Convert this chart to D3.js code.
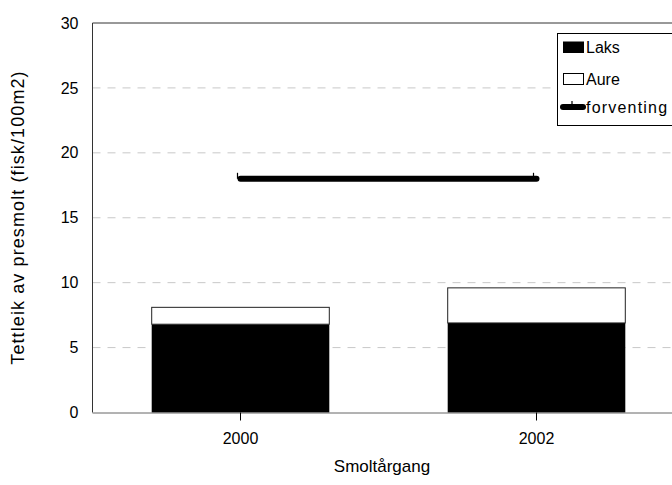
<!DOCTYPE html>
<html>
<head>
<meta charset="utf-8">
<script src="https://cdn.jsdelivr.net/npm/d3@7"></script>
<style>
  html, body { margin: 0; padding: 0; background: #fff; }
  svg { display: block; font-family: "Liberation Sans", Arial, sans-serif; }
</style>
</head>
<body>
<svg id="chart" width="672" height="485"></svg>
<script>
// Presmolt density per smolt year class
const years = ["2000", "2002"];
const laks = [6.8, 6.9];
const aure = [1.3, 2.7];          // stacked on top of laks
const forventing = [18, 18];      // expected density
const yTicks = [0, 5, 10, 15, 20, 25, 30];
const legendLabels = ["Laks", "Aure", "forventing"];

const svg = d3.select("#chart");
const plotLeft = 92.5, plotRight = 684.5, plotTop = 23, plotBottom = 412.5;

const x = d3.scaleBand().domain(years).range([plotLeft, plotRight]).padding(0);
const y = d3.scaleLinear().domain([0, 30]).range([plotBottom, plotTop]);
const barW = x.bandwidth() * 0.6;
const cx = d => x(d) + x.bandwidth() / 2;

// dashed gridlines
svg.append("g").selectAll("line")
  .data(yTicks.filter(t => t > 0 && t < 30))
  .join("line")
  .attr("x1", plotLeft).attr("x2", plotRight)
  .attr("y1", d => y(d)).attr("y2", d => y(d))
  .attr("stroke", "#c8c8c8").attr("stroke-width", 1)
  .attr("stroke-dasharray", "8,7");

// stacked bars
const stacked = years.map((yr, i) => ({ yr, laks: laks[i], aure: aure[i] }));
const series = d3.stack().keys(["laks", "aure"])(stacked);
const fills = { laks: "#000", aure: "#fff" };

svg.append("g").selectAll("g")
  .data(series)
  .join("g")
  .attr("fill", d => fills[d.key])
  .attr("stroke", d => d.key === "aure" ? "#222" : "none")
  .selectAll("rect")
  .data(d => d)
  .join("rect")
  .attr("x", d => cx(d.data.yr) - barW / 2)
  .attr("width", barW)
  .attr("y", d => y(d[1]))
  .attr("height", d => y(d[0]) - y(d[1]));

// expected density line with small point markers
const line = d3.line().x((d, i) => cx(years[i])).y(d => y(d));
svg.append("path")
  .datum(forventing)
  .attr("d", line)
  .attr("fill", "none")
  .attr("stroke", "#000")
  .attr("stroke-width", 6)
  .attr("stroke-linecap", "round");
svg.append("g").selectAll("line")
  .data(forventing)
  .join("line")
  .attr("x1", (d, i) => cx(years[i]) - 3)
  .attr("x2", (d, i) => cx(years[i]) - 3)
  .attr("y1", d => y(d) - 6).attr("y2", d => y(d))
  .attr("stroke", "#000").attr("stroke-width", 1.2);

// frame: left and top
svg.append("line").attr("x1", plotLeft).attr("x2", plotLeft).attr("y1", plotTop).attr("y2", plotBottom)
  .attr("stroke", "#333");
svg.append("line").attr("x1", plotLeft).attr("x2", plotRight).attr("y1", plotTop).attr("y2", plotTop)
  .attr("stroke", "#333");

// y axis labels
const yAxis = d3.axisLeft(y).tickValues(yTicks).tickSize(0).tickPadding(14);
const gy = svg.append("g").attr("transform", `translate(${plotLeft},0)`).call(yAxis);
gy.select(".domain").remove();
gy.selectAll("text").attr("font-size", 16).attr("fill", "#000")
  .attr("font-family", "Liberation Sans, Arial, sans-serif");

// x axis
const xAxis = d3.axisBottom(x).tickSize(8).tickPadding(12);
const gx = svg.append("g").attr("transform", `translate(0,${plotBottom})`).call(xAxis);
gx.select(".domain").attr("stroke", "#666").attr("d", `M${plotLeft},0.5H${plotRight}`);
gx.selectAll(".tick line").attr("stroke", "#000");
gx.selectAll("text").attr("font-size", 16).attr("fill", "#000")
  .attr("font-family", "Liberation Sans, Arial, sans-serif");

// axis titles
svg.append("text")
  .attr("x", 382).attr("y", 472)
  .attr("text-anchor", "middle").attr("font-size", 17)
  .text("Smoltårgang");
svg.append("text")
  .attr("transform", "translate(24,217.5) rotate(-90)")
  .attr("text-anchor", "middle").attr("font-size", 18)
  .attr("letter-spacing", 1.1)
  .text("Tettleik av presmolt (fisk/100m2)");

// legend
const lg = svg.append("g");
lg.append("rect").attr("x", 557.5).attr("y", 33.5).attr("width", 130).attr("height", 92)
  .attr("fill", "#fff").attr("stroke", "#000");
const rowY = [47, 79, 107];
lg.append("rect").attr("x", 563).attr("y", 41.5).attr("width", 21).attr("height", 11.5).attr("fill", "#000");
lg.append("rect").attr("x", 563.5).attr("y", 73.5).attr("width", 20).attr("height", 11).attr("fill", "#fff")
  .attr("stroke", "#000");
lg.append("line").attr("x1", 563).attr("x2", 583).attr("y1", rowY[2]).attr("y2", rowY[2])
  .attr("stroke", "#000").attr("stroke-width", 6).attr("stroke-linecap", "round");
lg.append("line").attr("x1", 572).attr("x2", 572).attr("y1", rowY[2] - 6).attr("y2", rowY[2])
  .attr("stroke", "#000").attr("stroke-width", 1.2);
lg.selectAll("text.lab").data(legendLabels).join("text")
  .attr("class", "lab")
  .attr("x", 586).attr("y", (d, i) => rowY[i])
  .attr("dy", "0.35em").attr("font-size", 16)
  .attr("letter-spacing", d => d === "forventing" ? 1.2 : 0)
  .text(d => d);
</script>
</body>
</html>
